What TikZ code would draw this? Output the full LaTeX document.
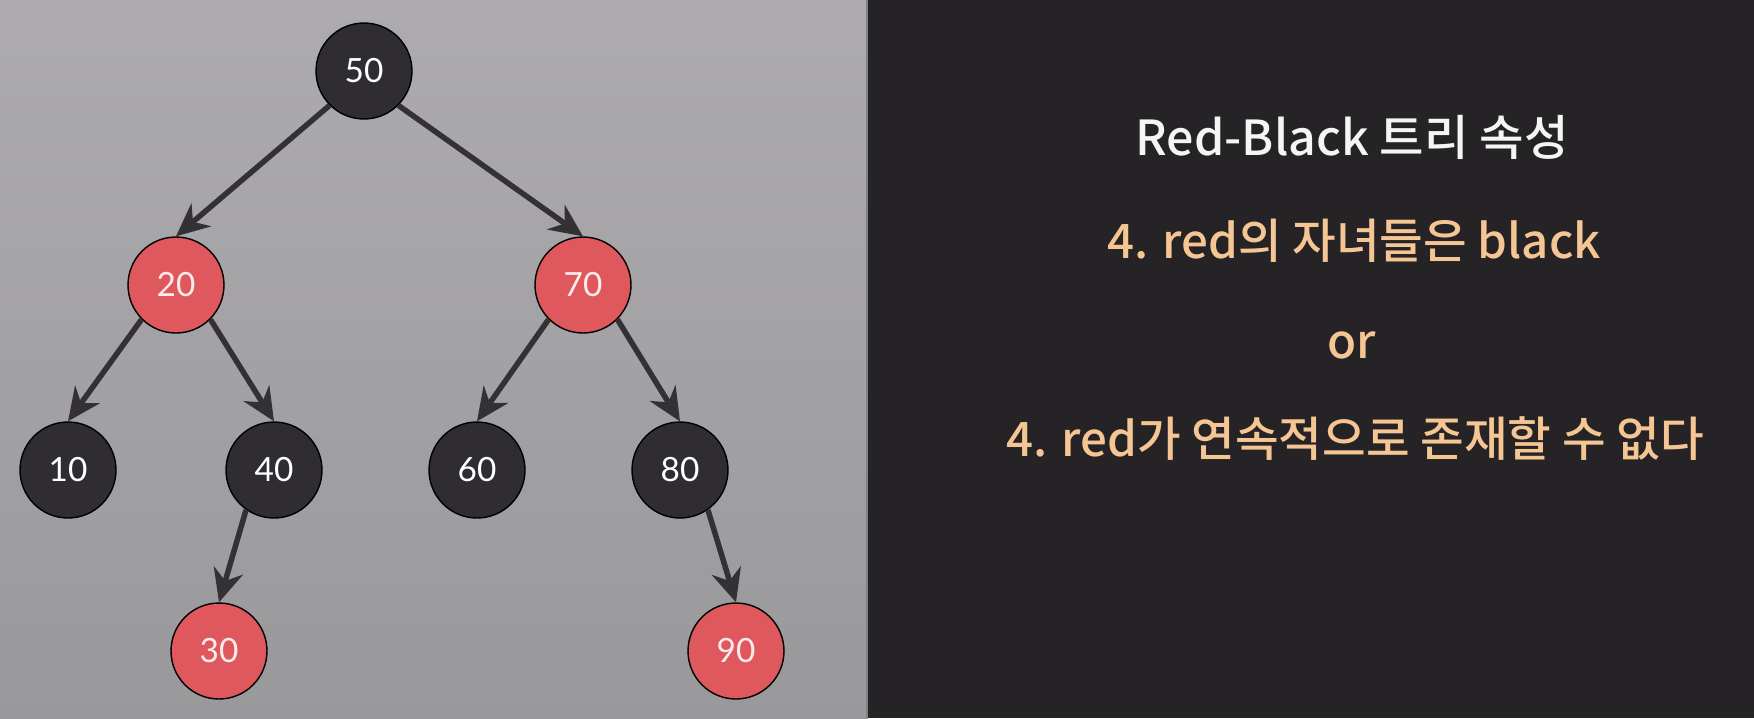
\documentclass[tikz,border=0pt]{standalone}
\usepackage{fontspec}
\setmainfont{Noto Sans CJK KR}[BoldFont={Noto Sans CJK KR Medium}]
\newfontfamily\numfont{Lato}
\usetikzlibrary{arrows.meta}

\definecolor{leftbgtop}{HTML}{ADABAE}
\definecolor{leftbgbot}{HTML}{99989A}
\definecolor{rightbg}{HTML}{252326}
\definecolor{nodeblack}{HTML}{2F2D31}
\definecolor{nodered}{HTML}{DE585D}
\definecolor{linkgray}{HTML}{333134}
\definecolor{ruleorange}{HTML}{F5C693}

\begin{document}
\begin{tikzpicture}[x=0.02cm, y=-0.02cm,
  blacknode/.style={circle, draw=black, thick, fill=nodeblack, minimum size=1.92cm,
    inner sep=0pt, text=white, font=\numfont\fontsize{19}{19}\selectfont},
  rednode/.style={blacknode, fill=nodered, text=white!92!red},
  link/.style={draw=linkgray, line width=0.11cm, -{Stealth[length=0.66cm, width=0.6cm]}},
  title/.style={anchor=base, text=white!96!black, font=\bfseries\fontsize{27.5}{27.5}\selectfont},
  rule/.style={anchor=base, text=ruleorange, font=\bfseries\fontsize{27}{27}\selectfont}]

% background
\useasboundingbox (0,0) rectangle (1754,718);
\shade[top color=leftbgtop, bottom color=leftbgbot] (0,0) rectangle (868,718);
\fill[rightbg] (868,0) rectangle (1754,718);
\fill[leftbgbot!85!black] (866,0) rectangle (868,718);

% tree
\node[blacknode] (n50) at (364,71) {50};
\node[rednode] (n20) at (176,285) {20};
\node[rednode] (n70) at (583,285) {70};
\node[blacknode] (n10) at (68,470) {10};
\node[blacknode] (n40) at (274,470) {40};
\node[blacknode] (n60) at (477,470) {60};
\node[blacknode] (n80) at (680,470) {80};
\node[rednode] (n30) at (219,651) {30};
\node[rednode] (n90) at (736,651) {90};

\draw[link] (n50.225) -- (n20.north);
\draw[link] (n50.-45) -- (n70.north);
\draw[link] (n20.225) -- (n10.north);
\draw[link] (n20.-45) -- (n40.north);
\draw[link] (n70.225) -- (n60.north);
\draw[link] (n70.-45) -- (n80.north);
\draw[link] (n40.235) -- (n30.north);
\draw[link] (n80.-55) -- (n90.north);

% text
\node[title] (head) at (1352,155) {Red-Black 트리 속성};
\node[rule] (rule1) at (1354,258) {4. red의 자녀들은 black};
\node[rule] (ortext) at (1352,358) {or};
\node[rule] (rule2) at (1355,456) {4. red가 연속적으로 존재할 수 없다};
\end{tikzpicture}
\end{document}
